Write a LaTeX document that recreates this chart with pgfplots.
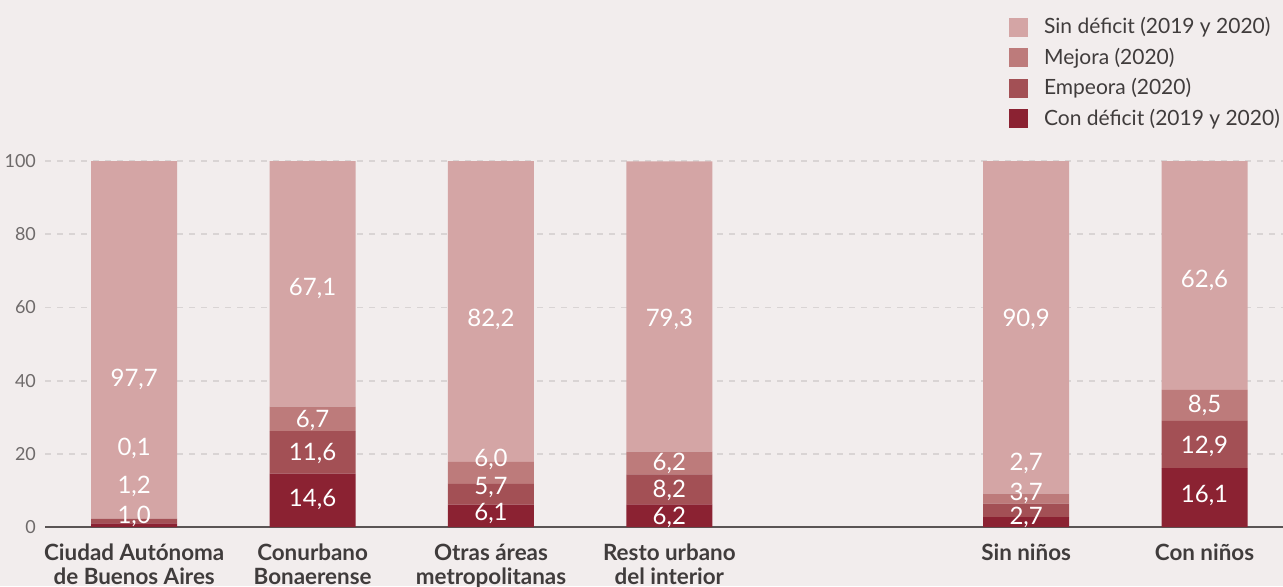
\documentclass[border=0pt]{standalone}
\usepackage{pgfplots}
\pgfplotsset{compat=1.18}
\usepackage{fontspec}
\setmainfont{Lato}
\definecolor{bg}{HTML}{F2EDED}
\definecolor{csin}{HTML}{D4A5A5}
\definecolor{cmej}{HTML}{BD7B7B}
\definecolor{cemp}{HTML}{A35055}
\definecolor{ccon}{HTML}{8B2232}
\definecolor{gridc}{HTML}{D9D4D4}
\definecolor{axc}{HTML}{5A5555}
\definecolor{tickc}{HTML}{6E6A6A}
\definecolor{catc}{HTML}{403C3C}
\tikzset{vl/.style={text=white, font=\fontsize{12}{13}\selectfont}}
\begin{document}
\begin{tikzpicture}
\fill[bg] (-22.5pt,-29.5pt) rectangle (619pt,263.5pt);
\begin{axis}[
  at={(0,0)}, anchor=south west,
  scale only axis, width=619pt, height=183pt,
  ybar stacked, bar width=43pt,
  xmin=-0.5, xmax=6.44, ymin=0, ymax=100,
  xtick={0,1,2,3,5,6},
  xticklabels={Ciudad Autónoma\\de Buenos Aires, Conurbano\\Bonaerense, Otras áreas\\metropolitanas, Resto urbano\\del interior, Sin niños, Con niños},
  xticklabel style={align=center, font=\fontsize{11.2}{12}\selectfont\bfseries, text=catc, anchor=north, yshift=-5pt},
  ytick={0,20,40,60,80,100},
  yticklabel style={font=\fontsize{9}{10}\selectfont, text=tickc, xshift=-1pt},
  /pgf/number format/assume math mode=true,
  major tick length=0pt,
  axis lines*=left,
  y axis line style={draw=none},
  x axis line style={draw=axc, line width=1pt},
  ymajorgrids, grid style={draw=gridc, line width=0.9pt, dash pattern=on 3pt off 3pt},
  legend style={at={(1.001,1.404)}, anchor=north east, draw=none, fill=none,
    font=\fontsize{10.5}{11}\selectfont, text=catc, row sep=1.6pt, inner sep=0pt},
  legend cell align=left,
  reverse legend,
  legend image code/.code={\fill[#1] (0pt,-4.75pt) rectangle (9.5pt,4.75pt); \path (15.5pt,0pt);},
]
\addplot[fill=ccon, draw=none] coordinates {(0,1.0) (1,14.6) (2,6.1) (3,6.2) (5,2.7) (6,16.1)};
\addlegendentry{Con déficit (2019 y 2020)}
\addplot[fill=cemp, draw=none] coordinates {(0,1.2) (1,11.6) (2,5.7) (3,8.2) (5,3.7) (6,12.9)};
\addlegendentry{Empeora (2020)}
\addplot[fill=cmej, draw=none] coordinates {(0,0.1) (1,6.7) (2,6.0) (3,6.2) (5,2.7) (6,8.5)};
\addlegendentry{Mejora (2020)}
\addplot[fill=csin, draw=none] coordinates {(0,97.7) (1,67.1) (2,82.2) (3,79.3) (5,90.9) (6,62.6)};
\addlegendentry{Sin déficit (2019 y 2020)}
\coordinate (a1) at (axis cs:0,40.2);
\coordinate (a2) at (axis cs:0,21.4);
\coordinate (a3) at (axis cs:0,11.0);
\coordinate (a4) at (axis cs:0,2.8);
\coordinate (b1) at (axis cs:1,65.3);
\coordinate (b2) at (axis cs:1,29.2);
\coordinate (b3) at (axis cs:1,20.2);
\coordinate (b4) at (axis cs:1,7.4);
\coordinate (c1) at (axis cs:2,56.6);
\coordinate (c2) at (axis cs:2,18.6);
\coordinate (c3) at (axis cs:2,10.9);
\coordinate (c4) at (axis cs:2,3.8);
\coordinate (d1) at (axis cs:3,56.6);
\coordinate (d2) at (axis cs:3,17.5);
\coordinate (d3) at (axis cs:3,10.1);
\coordinate (d4) at (axis cs:3,2.7);
\coordinate (e1) at (axis cs:5,56.6);
\coordinate (e2) at (axis cs:5,17.5);
\coordinate (e3) at (axis cs:5,9.3);
\coordinate (e4) at (axis cs:5,2.5);
\coordinate (f1) at (axis cs:6,67.5);
\coordinate (f2) at (axis cs:6,33.3);
\coordinate (f3) at (axis cs:6,21.9);
\coordinate (f4) at (axis cs:6,8.5);
\end{axis}
\node[vl] at (a1) {97,7};
\node[vl] at (a2) {0,1};
\node[vl] at (a3) {1,2};
\node[vl] at (a4) {1,0};
\node[vl] at (b1) {67,1};
\node[vl] at (b2) {6,7};
\node[vl] at (b3) {11,6};
\node[vl] at (b4) {14,6};
\node[vl] at (c1) {82,2};
\node[vl] at (c2) {6,0};
\node[vl] at (c3) {5,7};
\node[vl] at (c4) {6,1};
\node[vl] at (d1) {79,3};
\node[vl] at (d2) {6,2};
\node[vl] at (d3) {8,2};
\node[vl] at (d4) {6,2};
\node[vl] at (e1) {90,9};
\node[vl] at (e2) {2,7};
\node[vl] at (e3) {3,7};
\node[vl] at (e4) {2,7};
\node[vl] at (f1) {62,6};
\node[vl] at (f2) {8,5};
\node[vl] at (f3) {12,9};
\node[vl] at (f4) {16,1};
\pgfresetboundingbox
\path (-22.5pt,-29.5pt) rectangle (619pt,263.5pt);
\end{tikzpicture}
\end{document}
